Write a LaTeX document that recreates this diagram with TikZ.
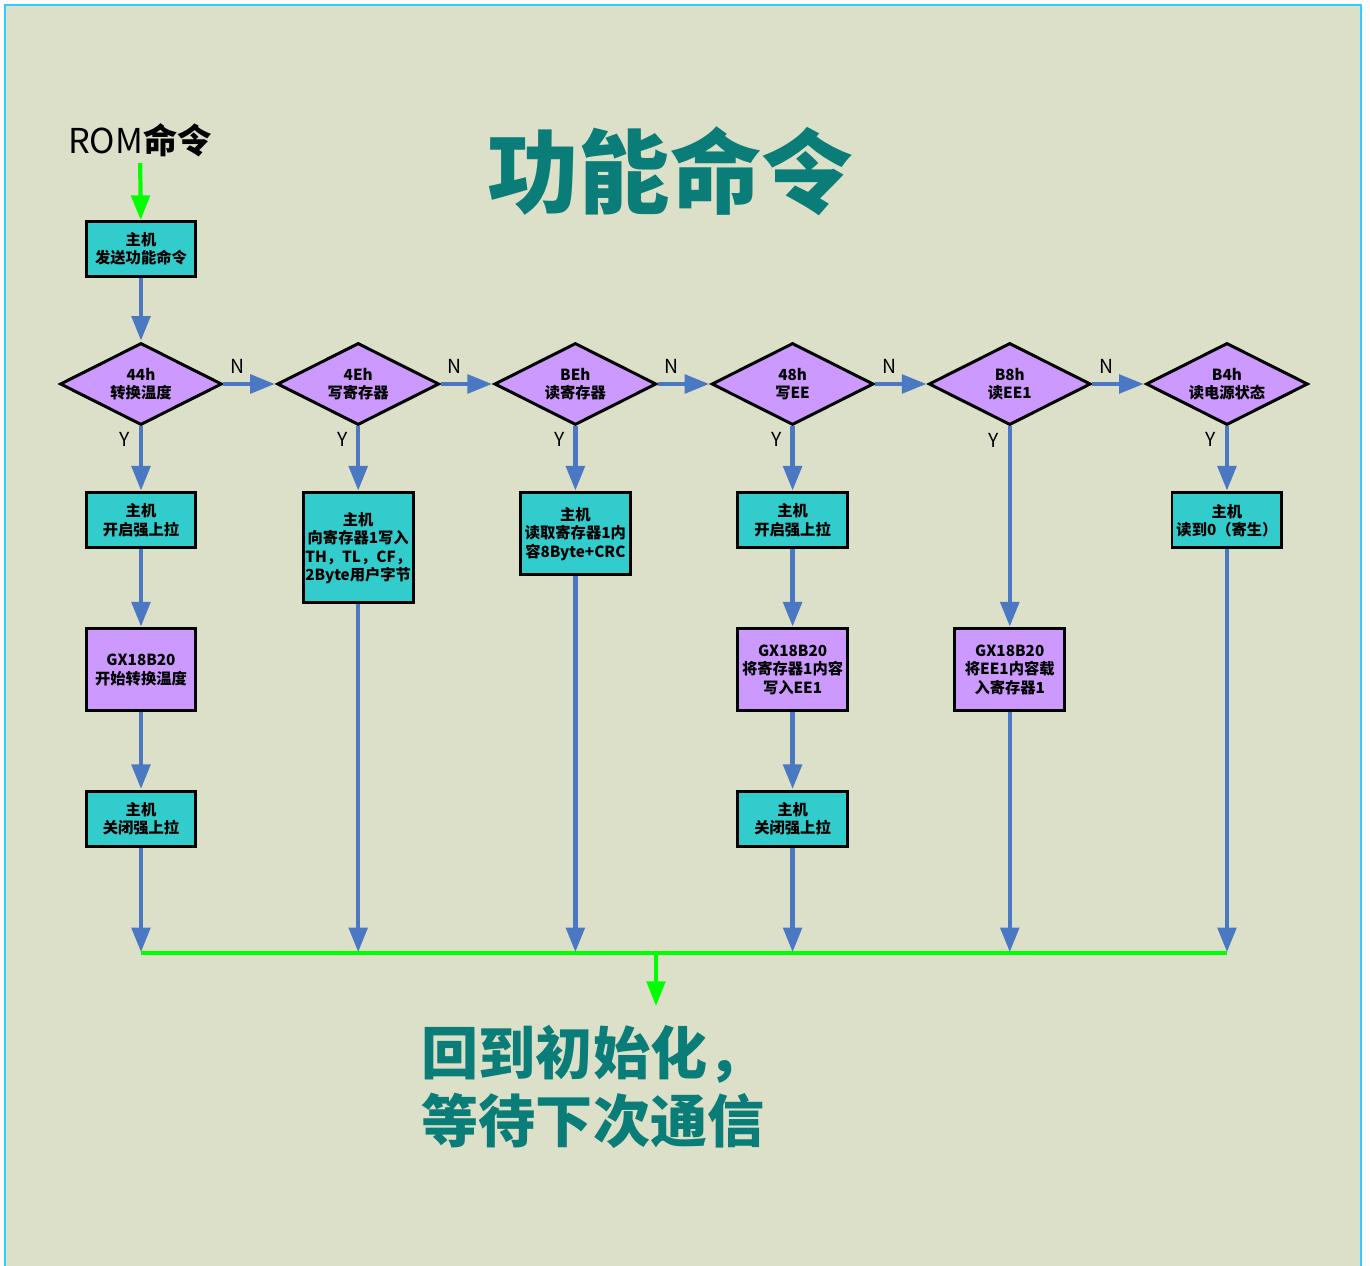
\documentclass[tikz,border=0pt]{standalone}
\usepackage{fontspec}
\setmainfont{Noto Sans CJK SC}
\usepackage{tikz}
\usetikzlibrary{positioning}
\usetikzlibrary{shapes.geometric}
\usetikzlibrary{arrows.meta}
\definecolor{paper}{HTML}{DCE0C9}
\definecolor{framecyan}{HTML}{33CCFF}
\definecolor{hostcyan}{HTML}{33CCCC}
\definecolor{chippurple}{HTML}{CC99FF}
\definecolor{flowblue}{HTML}{4A78C2}
\definecolor{busgreen}{HTML}{00FF00}
\definecolor{titleteal}{HTML}{0B7D78}

\begin{document}
\begin{tikzpicture}[
            x = 0.02cm, y = -0.02cm, % one unit = one pixel
            > = {Triangle[length=14pt 0 0, width=10.5pt 0 0]}, % arrow head style
            node distance = 1.045cm, % distance between diamonds
            font = \bfseries\fontsize{8.7}{10.5}\selectfont
        ]

        \tikzstyle{hostbox}=[
            draw = black,
            line width = 1.7pt,
            fill = hostcyan,
            align = center,
            inner sep = 1pt,
            minimum width = 2.2cm,
            minimum height = 1.1cm
        ]
        \tikzstyle{chipbox}=[hostbox, fill = chippurple, minimum height = 1.64cm]
        \tikzstyle{cmd}=[
            diamond,
            aspect = 2,
            draw = black,
            line width = 1.7pt,
            fill = chippurple,
            align = center,
            inner sep = 0pt,
            minimum width = 3.24cm,
            minimum height = 1.64cm
        ]
        \tikzstyle{flow}=[->, color = flowblue, line width = 2.4pt, shorten > = 0.5pt]
        \tikzstyle{bus}=[color = busgreen, line width = 2.2pt]
        \tikzstyle{yn}=[text = black, font = \mdseries\fontsize{11}{12}\selectfont, inner sep = 0pt]

        % paper
        \useasboundingbox (0,0) rectangle (1370,1266);
        \fill[paper] (5,5) rectangle (1361,1290);
        \draw[framecyan, line width = 1.2pt] (5,1290) -- (5,5) -- (1361,5) -- (1361,1290);

        % headings
        \node (rom) at (140,140) {\fontsize{19.5}{20}\selectfont\mdseries ROM\bfseries 命令};
        \node[text = titleteal, font = \bfseries\fontsize{52}{52}\selectfont] (title) at (670,171) {功能命令};

        % host sends the command
        \node[hostbox] (send) at (141,249) {主机\\发送功能命令};
        \path[->, bus, line width = 2.4pt] (rom) edge node {} (send);

        % command level
        \node[cmd] (c44) at (141,384) {44h\\转换温度};
        \node[cmd] (c4E) [right=of c44] {4Eh\\写寄存器};
        \node[cmd] (cBE) [right=of c4E] {BEh\\读寄存器};
        \node[cmd] (c48) [right=of cBE] {48h\\写EE};
        \node[cmd] (cB8) [right=of c48] {B8h\\读EE1};
        \node[cmd] (cB4) [right=of cB8] {B4h\\读电源状态};

        \path[flow] (send) edge node {} (c44);
        \path[flow] (c44) edge node[yn, above=5pt, pos=.27] {N} (c4E);
        \path[flow] (c4E) edge node[yn, above=5pt, pos=.27] {N} (cBE);
        \path[flow] (cBE) edge node[yn, above=5pt, pos=.27] {N} (c48);
        \path[flow] (c48) edge node[yn, above=5pt, pos=.27] {N} (cB8);
        \path[flow] (cB8) edge node[yn, above=5pt, pos=.27] {N} (cB4);

        % 44h
        \node[hostbox] (pullOn1) [below=1.3cm of c44] {主机\\开启强上拉};
        \node[chipbox] (convert) [below=1.56cm of pullOn1] {GX18B20\\开始转换温度};
        \node[hostbox] (pullOff1) [below=1.55cm of convert] {主机\\关闭强上拉};

        % 4Eh
        \node[hostbox, minimum height = 2.2cm] (writeScr) [below=1.3cm of c4E] {主机\\向寄存器1写入\\TH，TL，CF，\\2Byte用户字节};

        % BEh
        \node[hostbox, minimum height = 1.64cm] (readScr) [below=1.3cm of cBE] {主机\\读取寄存器1内\\容8Byte+CRC};

        % 48h
        \node[hostbox] (pullOn2) [below=1.3cm of c48] {主机\\开启强上拉};
        \node[chipbox] (copyScr) [below=1.56cm of pullOn2] {GX18B20\\将寄存器1内容\\写入EE1};
        \node[hostbox] (pullOff2) [below=1.55cm of copyScr] {主机\\关闭强上拉};

        % B8h
        \node[chipbox] (recall) [below=4.02cm of cB8] {GX18B20\\将EE1内容载\\入寄存器1};

        % B4h
        \node[hostbox] (power) [below=1.3cm of cB4] {主机\\读到0（寄生）};

        \path[flow] (c44) edge node[yn, left=5pt, pos=.2] {Y} (pullOn1);
        \path[flow] (c4E) edge node[yn, left=5pt, pos=.2] {Y} (writeScr);
        \path[flow] (cBE) edge node[yn, left=5pt, pos=.2] {Y} (readScr);
        \path[flow] (c48) edge node[yn, left=5pt, pos=.2] {Y} (pullOn2);
        \path[flow] (cB8) edge node[yn, left=5pt, pos=.067] {Y} (recall);
        \path[flow] (cB4) edge node[yn, left=5pt, pos=.2] {Y} (power);

        \path[flow] (pullOn1) edge node {} (convert);
        \path[flow] (convert) edge node {} (pullOff1);
        \path[flow] (pullOn2) edge node {} (copyScr);
        \path[flow] (copyScr) edge node {} (pullOff2);

        % back to the start
        \coordinate (busline) at (0,953);
        \coordinate (j1) at (c44 |- busline);
        \coordinate (j2) at (c4E |- busline);
        \coordinate (j3) at (cBE |- busline);
        \coordinate (j4) at (c48 |- busline);
        \coordinate (j5) at (cB8 |- busline);
        \coordinate (j6) at (cB4 |- busline);
        \coordinate (jm) at (656,953);
        \coordinate (back) at (656,1006);

        \draw[bus] (j1) -- (j6);
        \path[flow] (pullOff1) edge node {} (j1);
        \path[flow] (writeScr) edge node {} (j2);
        \path[flow] (readScr) edge node {} (j3);
        \path[flow] (pullOff2) edge node {} (j4);
        \path[flow] (recall) edge node {} (j5);
        \path[flow] (power) edge node {} (j6);
        \draw[->, bus] (jm) -- (back);

        \node[text = titleteal, align = left, font = \bfseries\fontsize{32.5}{38.7}\selectfont] (restart) at (593,1087) {回到初始化，\\等待下次通信};

\end{tikzpicture}
\end{document}
